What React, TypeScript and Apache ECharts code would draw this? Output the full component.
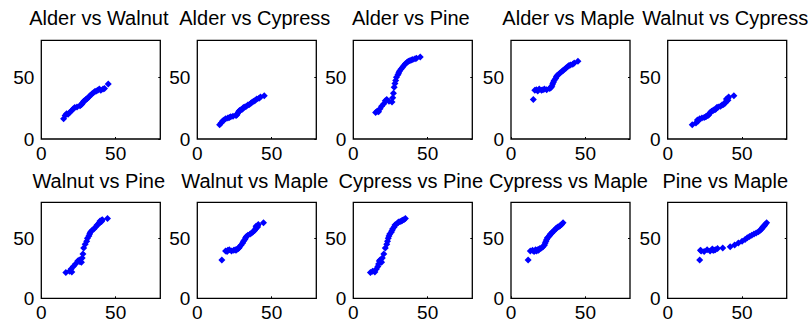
import React, { useEffect, useRef } from "react";
import * as echarts from "echarts";

const alder = [15, 16, 17, 18, 19, 20.5, 21.5, 22.5, 24, 26, 26.5, 27, 27.5, 28, 28.5, 29, 30, 30.5, 31, 32, 33, 34, 35, 36, 37, 38, 39, 40, 41.5, 42.5, 45];
const walnut = [16.5, 19, 20.5, 20, 21.5, 23, 24.5, 25.5, 26, 27, 27.5, 28, 28.5, 29.5, 30.5, 31, 32, 32.5, 33, 34, 35.5, 36.5, 37.5, 38.5, 39, 39.5, 40.5, 39.5, 40.5, 41, 44.5];
const cypress = [11.5, 13, 14.5, 15.5, 16.5, 17, 17.5, 18, 18.5, 19, 19.5, 20.5, 21.5, 22.5, 23, 23.5, 24, 24.5, 25.5, 26, 26.5, 27.5, 28, 29, 30, 30.5, 31.5, 32.5, 33, 34, 35];
const pine = [21.5, 22.5, 22, 24.5, 26.5, 28.5, 31, 32, 30.5, 30, 33.5, 37, 42, 45, 47.5, 50, 52, 53.5, 55, 56.5, 58, 59.5, 61, 62, 63, 63.5, 64, 64.5, 65, 65.5, 66.5];
const maple = [32, 39.5, 40, 39, 40.5, 39.5, 40, 40.5, 40, 41, 41.5, 42, 43, 44.5, 46, 47.5, 49, 50.5, 51.5, 52.5, 53.5, 54.5, 55.5, 56.5, 57.5, 58.5, 59.5, 60, 60.5, 61.5, 63];

const speciesNames = ["Alder", "Walnut", "Cypress", "Pine", "Maple"];
const speciesValues = [alder, walnut, cypress, pine, maple];

const pairs: [number, number][] = [
  [0, 1], [0, 2], [0, 3], [0, 4], [1, 2],
  [1, 3], [1, 4], [2, 3], [2, 4], [3, 4],
];

const axisMin = 0;
const axisMax = 80;
const tickStep = 50;

const colLefts = [41.3, 197.3, 353.3, 511, 667.7];
const rowTops = [40.3, 202.3];
const rowHeights = [98.7, 96];
const plotWidth = 119;
const titleYs = [18, 181];

const FONT = "'Liberation Sans', Arial, sans-serif";

export default function App() {
  const ref = useRef<HTMLDivElement>(null);
  useEffect(() => {
    document.body.style.margin = "0";
    if (!ref.current) return;
    const chart = echarts.init(ref.current, undefined, { renderer: "svg" });
    const grids: any[] = [];
    const xAxes: any[] = [];
    const yAxes: any[] = [];
    const series: any[] = [];
    const graphics: any[] = [];
    pairs.forEach(([xi, yi], k) => {
      const row = Math.floor(k / 5);
      const col = k % 5;
      grids.push({
        left: colLefts[col],
        top: rowTops[row],
        width: plotWidth,
        height: rowHeights[row],
        show: true,
        borderColor: "#000",
        borderWidth: 1.3,
        backgroundColor: "#fff",
        containLabel: false,
      });
      xAxes.push({
        gridIndex: k,
        type: "value",
        min: axisMin,
        max: axisMax,
        interval: tickStep,
        axisLine: { show: false },
        axisTick: { show: true, inside: true, length: 2, lineStyle: { color: "#000" } },
        axisLabel: { fontSize: 19, color: "#000", fontFamily: FONT, margin: 5, showMaxLabel: false },
        splitLine: { show: false },
      });
      yAxes.push({
        gridIndex: k,
        type: "value",
        min: axisMin,
        max: axisMax,
        interval: tickStep,
        position: "left",
        axisLine: { show: false },
        axisTick: { show: false },
        axisLabel: { fontSize: 19, color: "#000", fontFamily: FONT, margin: 7, showMaxLabel: false },
        splitLine: { show: false },
      });
      yAxes.push({
        gridIndex: k,
        type: "value",
        min: axisMin,
        max: axisMax,
        interval: tickStep,
        position: "right",
        axisLine: { show: false },
        axisTick: { show: true, inside: true, length: 2, lineStyle: { color: "#000" } },
        axisLabel: { show: false },
        splitLine: { show: false },
      });
      const xs = speciesValues[xi];
      const ys = speciesValues[yi];
      series.push({
        type: "scatter",
        xAxisIndex: k,
        yAxisIndex: 2 * k,
        symbol: "diamond",
        symbolSize: 7,
        itemStyle: { color: "#0000ff", opacity: 1 },
        data: xs.map((v, i) => [v, ys[i]]),
      });
      graphics.push({
        type: "text",
        x: colLefts[col] + plotWidth / 2 - 2,
        y: titleYs[row],
        style: {
          text: `${speciesNames[xi]} vs ${speciesNames[yi]}`,
          fontSize: 20,
          fontFamily: FONT,
          fill: "#000",
          align: "center",
          verticalAlign: "middle",
        },
      });
    });
    chart.setOption({
      animation: false,
      backgroundColor: "#fff",
      grid: grids,
      xAxis: xAxes,
      yAxis: yAxes,
      series,
      graphic: graphics,
    });
    return () => chart.dispose();
  }, []);
  return <div ref={ref} style={{ width: 809, height: 326 }} />;
}
